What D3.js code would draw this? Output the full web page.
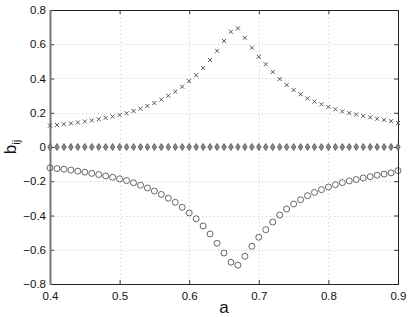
<!DOCTYPE html>
<html>
<head>
<meta charset="utf-8">
<script src="https://cdn.jsdelivr.net/npm/d3@7"></script>
<style>
  body { margin: 0; background: #fff; }
  svg { display: block; font-family: "Liberation Sans", Arial, sans-serif; }
</style>
</head>
<body>
<svg width="409" height="317"></svg>
<script>
const svg = d3.select("svg");

// a values from 0.40 to 0.90, step 0.01
const aValues = d3.range(51).map(i => +(0.4 + i * 0.01).toFixed(2));

// upper series (x markers)
const crossValues = [
  0.125, 0.129, 0.133, 0.138, 0.143, 0.149, 0.155, 0.162, 0.170, 0.178,
  0.187, 0.197, 0.210, 0.224, 0.240, 0.257, 0.277, 0.300, 0.323, 0.352,
  0.385, 0.419, 0.461, 0.508, 0.562, 0.619, 0.673, 0.693, 0.638, 0.580,
  0.527, 0.483, 0.438, 0.397, 0.362, 0.333, 0.308, 0.284, 0.265, 0.249,
  0.234, 0.220, 0.208, 0.198, 0.190, 0.181, 0.173, 0.165, 0.158, 0.151, 0.140
];

// middle series (diamonds)
const diamondValues = aValues.map(() => 0);

// lower series (circles)
const circleValues = [
  -0.122, -0.126, -0.130, -0.135, -0.141, -0.147, -0.154, -0.161, -0.169, -0.177,
  -0.186, -0.196, -0.209, -0.223, -0.239, -0.257, -0.277, -0.299, -0.323, -0.352,
  -0.385, -0.419, -0.461, -0.508, -0.562, -0.619, -0.673, -0.690, -0.638, -0.580,
  -0.527, -0.483, -0.438, -0.397, -0.362, -0.333, -0.308, -0.284, -0.265, -0.249,
  -0.234, -0.220, -0.208, -0.198, -0.190, -0.181, -0.173, -0.165, -0.158, -0.151, -0.138
];

const xTicks = [0.4, 0.5, 0.6, 0.7, 0.8, 0.9];
const yTicks = [-0.8, -0.6, -0.4, -0.2, 0, 0.2, 0.4, 0.6, 0.8];

const plotLeft = 50, plotRight = 398, plotTop = 10, plotBottom = 284;

const x = d3.scaleLinear().domain([0.4, 0.9]).range([plotLeft, plotRight]);
const y = d3.scaleLinear().domain([-0.8, 0.8]).range([plotBottom, plotTop]);

const fmt = v => (v === 0 ? "0" : (v < 0 ? "\u2212" : "") + d3.format(".1f")(Math.abs(v)));

// grid
svg.append("g")
  .selectAll("line")
  .data(xTicks.slice(1, -1))
  .enter()
  .append("line")
  .attr("x1", d => Math.round(x(d)) + 0.5).attr("x2", d => Math.round(x(d)) + 0.5)
  .attr("y1", plotTop).attr("y2", plotBottom)
  .attr("stroke", "#c8c8c8")
  .attr("stroke-dasharray", "1,3");

svg.append("g")
  .selectAll("line")
  .data(yTicks.slice(1, -1))
  .enter()
  .append("line")
  .attr("x1", plotLeft).attr("x2", plotRight)
  .attr("y1", d => Math.round(y(d)) + 0.5).attr("y2", d => Math.round(y(d)) + 0.5)
  .attr("stroke", "#c8c8c8")
  .attr("stroke-dasharray", "1,3");

// axes (ticks inward)
const xAxis = svg.append("g")
  .attr("transform", `translate(0,${plotBottom})`)
  .call(d3.axisBottom(x).tickValues(xTicks).tickSize(-4).tickPadding(8).tickFormat(fmt));

const xAxisTop = svg.append("g")
  .attr("transform", `translate(0,${plotTop})`)
  .call(d3.axisTop(x).tickValues(xTicks).tickSize(-4).tickFormat(""));

const yAxis = svg.append("g")
  .attr("transform", `translate(${plotLeft},0)`)
  .call(d3.axisLeft(y).tickValues(yTicks).tickSize(-4).tickPadding(4).tickFormat(fmt));

const yAxisRight = svg.append("g")
  .attr("transform", `translate(${plotRight},0)`)
  .call(d3.axisRight(y).tickValues(yTicks).tickSize(-4).tickFormat(""));

[xAxis, xAxisTop, yAxis, yAxisRight].forEach(g => {
  g.select(".domain").remove();
  g.selectAll(".tick line").attr("stroke", "#333");
  g.selectAll("text").attr("fill", "#111").style("font-size", "11.5px").style("font-family", "Liberation Sans, Arial, sans-serif");
});

// frame
svg.append("rect")
  .attr("x", plotLeft + 0.5).attr("y", plotTop + 0.5)
  .attr("width", plotRight - plotLeft).attr("height", plotBottom - plotTop)
  .attr("fill", "none")
  .attr("stroke", "#222");
svg.append("line")
  .attr("x1", plotLeft + 0.5).attr("x2", plotLeft + 0.5)
  .attr("y1", plotTop).attr("y2", plotBottom + 1)
  .attr("stroke", "#777")
  .attr("stroke-width", 2);

const markColor = "#555";

// crosses
svg.append("g")
  .selectAll("path")
  .data(aValues.map((a, i) => [a, crossValues[i]]))
  .enter()
  .append("path")
  .attr("transform", d => `translate(${x(d[0])},${y(d[1])})`)
  .attr("d", "M-2,-2L2,2M-2,2L2,-2")
  .attr("stroke", markColor)
  .attr("stroke-width", 1)
  .attr("fill", "none");

// diamonds
svg.append("g")
  .selectAll("path")
  .data(aValues.map((a, i) => [a, diamondValues[i]]))
  .enter()
  .append("path")
  .attr("transform", d => `translate(${x(d[0])},${y(d[1])})`)
  .attr("d", "M0,-3.5L2.2,0L0,3.5L-2.2,0Z")
  .attr("stroke", markColor)
  .attr("stroke-width", 0.8)
  .attr("fill", "#888");

// circles
svg.append("g")
  .selectAll("circle")
  .data(aValues.map((a, i) => [a, circleValues[i]]))
  .enter()
  .append("circle")
  .attr("cx", d => x(d[0]))
  .attr("cy", d => y(d[1]))
  .attr("r", 3)
  .attr("stroke", markColor)
  .attr("stroke-width", 0.9)
  .attr("fill", "none");

// axis labels
svg.append("text")
  .attr("x", (plotLeft + plotRight) / 2)
  .attr("y", 313)
  .attr("text-anchor", "middle")
  .style("font-size", "17px")
  .attr("fill", "#111")
  .text("a");

const yl = svg.append("text")
  .attr("transform", `translate(16,${(plotTop + plotBottom) / 2}) rotate(-90)`)
  .attr("text-anchor", "middle")
  .style("font-size", "17px")
  .attr("fill", "#111");
yl.append("tspan").text("b");
yl.append("tspan").attr("dy", 4).style("font-size", "11px").text("ij");
</script>
</body>
</html>
